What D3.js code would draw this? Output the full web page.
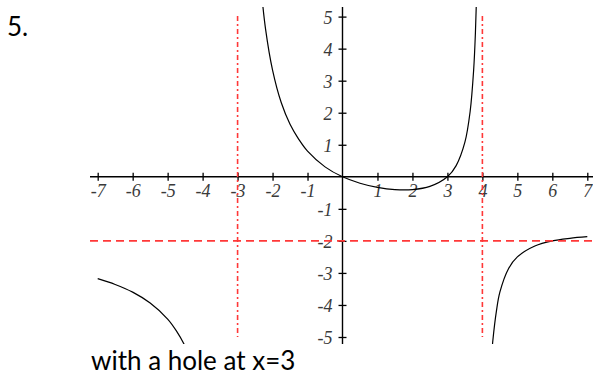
<!DOCTYPE html>
<html>
<head>
<meta charset="utf-8">
<script src="https://cdn.jsdelivr.net/npm/d3@7"></script>
<style>
  html, body { margin: 0; padding: 0; background: #fff; }
  svg { display: block; }
</style>
</head>
<body>
<script>
// ---- data ----
const xTicks = [-7, -6, -5, -4, -3, -2, -1, 1, 2, 3, 4, 5, 6, 7];
const yTicks = [5, 4, 3, 2, 1, -1, -2, -3, -4, -5];
const verticalAsymptotes = [-3, 4];
const horizontalAsymptote = -2;
const leftBranch = [
  [-7, -3.18], [-6.5, -3.36], [-6, -3.6], [-5.5, -3.94], [-5, -4.44],
  [-4.75, -4.81], [-4.5, -5.29], [-4.4, -5.55]
];
const middleBranch = [
  [-2.32, 5.8], [-2.2, 4.61], [-2, 3.33], [-1.75, 2.31], [-1.5, 1.64],
  [-1.25, 1.17], [-1, 0.8], [-0.5, 0.31], [0, 0], [0.5, -0.2], [1, -0.33],
  [1.5, -0.4], [2, -0.4], [2.5, -0.3], [3, 0], [3.25, 0.35], [3.5, 1.08],
  [3.65, 2.04], [3.75, 3.33], [3.8, 4.47], [3.85, 6.37]
];
const rightBranch = [
  [4.27, -5.5], [4.3, -5.1], [4.4, -4.2], [4.5, -3.6], [4.75, -2.86],
  [5, -2.5], [5.5, -2.16], [6, -2.0], [6.5, -1.92], [7, -1.87]
];
const titleText = "5.";
const captionText = "with a hole at x=3";

// ---- drawing ----
const W = 593, H = 376;
const svg = d3.select("body").append("svg").attr("width", W).attr("height", H);

const x = d3.scaleLinear().domain([-7, 7]).range([97.7, 587.3]);
const y = d3.scaleLinear().domain([-5, 5]).range([337, 16.6]);

const red = "#ff3838";
const labelFont = "'Liberation Serif', 'DejaVu Serif', serif";
const textFont = "Lato, 'Open Sans', sans-serif";

// clip for the curve
svg.append("defs").append("clipPath").attr("id", "plotclip")
  .append("rect").attr("x", 85).attr("y", 7).attr("width", 510).attr("height", 337);

// axes lines
svg.append("line").attr("x1", 90).attr("x2", 593)
  .attr("y1", y(0)).attr("y2", y(0)).attr("stroke", "#000").attr("stroke-width", 1.4);
svg.append("line").attr("x1", x(0)).attr("x2", x(0))
  .attr("y1", 7).attr("y2", 344).attr("stroke", "#000").attr("stroke-width", 1.4);

// x axis ticks
const xAxis = d3.axisBottom(x).tickValues(xTicks).tickSize(4).tickFormat(d => d);
const gx = svg.append("g").attr("transform", `translate(0,${y(0)})`).call(xAxis);
gx.select(".domain").remove();
gx.selectAll(".tick line").attr("y1", -4).attr("y2", 4).attr("stroke", "#000").attr("stroke-width", 1.3);
gx.selectAll(".tick text")
  .attr("y", 20).attr("dy", null)
  .attr("font-family", labelFont).attr("font-style", "italic")
  .attr("font-size", 18).attr("fill", "#3a3a3a");

// y axis ticks
const yAxis = d3.axisLeft(y).tickValues(yTicks).tickSize(4).tickFormat(d => d);
const gy = svg.append("g").attr("transform", `translate(${x(0)},0)`).call(yAxis);
gy.select(".domain").remove();
gy.selectAll(".tick line").attr("x1", -4).attr("x2", 4).attr("stroke", "#000").attr("stroke-width", 1.3);
gy.selectAll(".tick text")
  .attr("x", -10).attr("dy", "0.36em")
  .attr("font-family", labelFont).attr("font-style", "italic")
  .attr("font-size", 18).attr("fill", "#3a3a3a");

// curve
const curve = d3.line().x(d => x(d[0])).y(d => y(d[1])).curve(d3.curveCatmullRom.alpha(0.5));
const gc = svg.append("g").attr("clip-path", "url(#plotclip)");
[leftBranch, middleBranch, rightBranch].forEach(b => {
  gc.append("path").attr("d", curve(b)).attr("fill", "none")
    .attr("stroke", "#000").attr("stroke-width", 1.2);
});

// asymptotes
verticalAsymptotes.forEach(v => {
  svg.append("line").attr("x1", x(v)).attr("x2", x(v))
    .attr("y1", 16).attr("y2", 337)
    .attr("stroke", red).attr("stroke-width", 1.6)
    .attr("stroke-dasharray", "5,3,2,3");
});
svg.append("line").attr("x1", 90).attr("x2", 593)
  .attr("y1", y(horizontalAsymptote)).attr("y2", y(horizontalAsymptote))
  .attr("stroke", red).attr("stroke-width", 1.6)
  .attr("stroke-dasharray", "8,5");

// texts
svg.append("text").attr("x", 7).attr("y", 36).text(titleText)
  .attr("font-family", textFont).attr("font-size", 26).attr("fill", "#000");
svg.append("text").attr("x", 91).attr("y", 370).text(captionText)
  .attr("font-family", textFont).attr("font-size", 26).attr("fill", "#000");
</script>
</body>
</html>
